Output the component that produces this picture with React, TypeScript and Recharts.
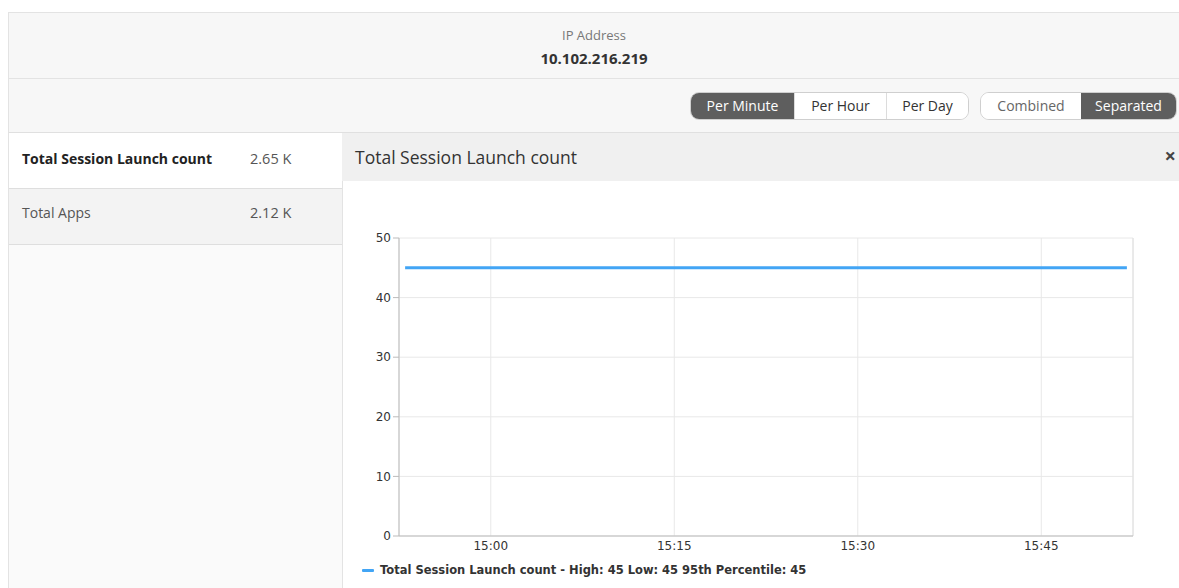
import React from 'react';
import { LineChart, Line, XAxis, YAxis, CartesianGrid, Legend, ReferenceLine } from 'recharts';

const timeLabels = [
  '14:53', '14:54', '14:55', '14:56', '14:57', '14:58', '14:59', '15:00', '15:01', '15:02',
  '15:03', '15:04', '15:05', '15:06', '15:07', '15:08', '15:09', '15:10', '15:11', '15:12',
  '15:13', '15:14', '15:15', '15:16', '15:17', '15:18', '15:19', '15:20', '15:21', '15:22',
  '15:23', '15:24', '15:25', '15:26', '15:27', '15:28', '15:29', '15:30', '15:31', '15:32',
  '15:33', '15:34', '15:35', '15:36', '15:37', '15:38', '15:39', '15:40', '15:41', '15:42',
  '15:43', '15:44', '15:45', '15:46', '15:47', '15:48', '15:49', '15:50', '15:51', '15:52',
];
const sessionLaunchCounts = [
  45, 45, 45, 45, 45, 45, 45, 45, 45, 45,
  45, 45, 45, 45, 45, 45, 45, 45, 45, 45,
  45, 45, 45, 45, 45, 45, 45, 45, 45, 45,
  45, 45, 45, 45, 45, 45, 45, 45, 45, 45,
  45, 45, 45, 45, 45, 45, 45, 45, 45, 45,
  45, 45, 45, 45, 45, 45, 45, 45, 45, 45,
];
const xTickLabels = ['15:00', '15:15', '15:30', '15:45'];
const xDomainLabels = ['14:52:30', '15:52:30'];
const yTicks = [0, 10, 20, 30, 40, 50];
const seriesName = 'Total Session Launch count';
const legendText = 'Total Session Launch count - High: 45 Low: 45 95th Percentile: 45';
const summaryRows = [
  { label: 'Total Session Launch count', value: '2.65 K' },
  { label: 'Total Apps', value: '2.12 K' },
];
const granularity = ['Per Minute', 'Per Hour', 'Per Day'];
const modes = ['Combined', 'Separated'];

const toMinutes = (s: string) => {
  const [h, m, sec] = s.split(':').map(Number);
  return h * 60 + m + (sec || 0) / 60;
};

const data = timeLabels.map((t, i) => ({ t: toMinutes(t), value: sessionLaunchCounts[i] }));
const xTicks = xTickLabels.map(toMinutes);
const xDomain = xDomainLabels.map(toMinutes);
const fmtTime = (v: number) => {
  const h = Math.floor(v / 60);
  const m = Math.round(v - h * 60);
  return `${h}:${m < 10 ? '0' + m : m}`;
};

const UI = '"Open Sans", "Noto Sans", sans-serif';
const CHART_FONT = '"DejaVu Sans", sans-serif';
const BLUE = '#42a5f5';

const segBase: React.CSSProperties = {
  height: 26,
  lineHeight: '26px',
  fontSize: 14,
  textAlign: 'center',
  boxSizing: 'border-box',
};

const LegendContent = () => (
  <div style={{ display: 'flex', alignItems: 'center', height: 20, paddingLeft: 20, fontFamily: CHART_FONT }}>
    <span style={{ display: 'inline-block', width: 12, height: 3, background: BLUE, borderRadius: 1, marginRight: 6 }} />
    <span style={{ fontSize: 11.5, fontWeight: 'bold', color: '#333' }}>{legendText}</span>
  </div>
);

export default function App() {
  return (
    <div style={{ position: 'relative', width: 1179, height: 588, overflow: 'hidden', background: '#fff' }}>
      <style>{'body{margin:0 !important;}'}</style>
      <div style={{ position: 'absolute', left: 8, top: 8, width: 1171, height: 580, overflow: 'hidden', fontFamily: UI, background: '#fff' }}>
        {/* header */}
        <div style={{ position: 'absolute', left: 0, top: 4, width: 1171, height: 67, background: '#f7f7f7', borderTop: '1px solid #e3e3e3', borderLeft: '1px solid #e3e3e3', borderBottom: '1px solid #e3e3e3', boxSizing: 'border-box', textAlign: 'center' }}>
          <div style={{ position: 'absolute', top: 13, width: '100%', fontSize: 13, color: '#777' }}>IP Address</div>
          <div style={{ position: 'absolute', top: 35, width: '100%', fontSize: 15, fontWeight: 'bold', color: '#333' }}>10.102.216.219</div>
        </div>
        {/* toolbar */}
        <div style={{ position: 'absolute', left: 0, top: 71, width: 1171, height: 54, background: '#f7f7f7', borderLeft: '1px solid #e3e3e3', borderBottom: '1px solid #e0e0e0', boxSizing: 'border-box' }}>
          <div style={{ position: 'absolute', left: 681, top: 13, display: 'flex', border: '1px solid #cfcfcf', borderRadius: 9, overflow: 'hidden', background: '#fff', height: 28, boxSizing: 'border-box' }}>
            {granularity.map((g, i) => (
              <div key={g} style={{ ...segBase, width: [103, 92, 82][i], background: i === 0 ? '#5e5e5e' : '#fff', color: i === 0 ? '#fff' : '#333', borderLeft: i > 0 ? '1px solid #dcdcdc' : 'none' }}>{g}</div>
            ))}
          </div>
          <div style={{ position: 'absolute', left: 971, top: 13, display: 'flex', border: '1px solid #cfcfcf', borderRadius: 9, overflow: 'hidden', background: '#fff', height: 28, boxSizing: 'border-box' }}>
            {modes.map((g, i) => (
              <div key={g} style={{ ...segBase, width: [100, 95][i], background: i === 1 ? '#5e5e5e' : '#fff', color: i === 1 ? '#fff' : '#666' }}>{g}</div>
            ))}
          </div>
        </div>
        {/* left summary panel */}
        <div style={{ position: 'absolute', left: 0, top: 125, width: 335, height: 455, background: '#fafafa', borderLeft: '1px solid #e3e3e3', borderRight: '1px solid #e3e3e3', boxSizing: 'border-box' }}>
          {summaryRows.map((r, i) => (
            <div key={r.label} style={{ position: 'relative', height: 56, background: i === 0 ? '#fff' : '#f3f3f3', borderBottom: '1px solid #dedede', boxSizing: 'border-box' }}>
              <div style={{ position: 'absolute', left: 13, top: i === 0 ? 16 : 14, fontSize: 14, fontWeight: i === 0 ? 'bold' : 'normal', color: i === 0 ? '#222' : '#555' }}>{r.label}</div>
              <div style={{ position: 'absolute', left: 241, top: i === 0 ? 16 : 14, fontSize: 14.5, color: '#555' }}>{r.value}</div>
            </div>
          ))}
        </div>
        {/* chart panel header */}
        <div style={{ position: 'absolute', left: 334, top: 125, width: 837, height: 48, background: '#f0f0f0' }}>
          <div style={{ position: 'absolute', left: 13, top: 12, fontSize: 17.5, color: '#333' }}>{seriesName}</div>
          <div style={{ position: 'absolute', right: 3, top: 9, fontSize: 20, color: '#444', fontWeight: 'bold' }}>×</div>
        </div>
        {/* chart */}
        <div style={{ position: 'absolute', left: 334, top: 173 }}>
          <LineChart width={837} height={407} data={data} margin={{ top: 57, right: 46, left: 0, bottom: 8 }}>
            <CartesianGrid stroke="#e8e8e8" />
            <XAxis
              dataKey="t"
              type="number"
              domain={xDomain}
              ticks={xTicks}
              tickFormatter={fmtTime}
              allowDataOverflow
              height={24}
              tickLine={false}
              tickSize={2}
              tickMargin={3}
              axisLine={{ stroke: '#bbb' }}
              tick={{ fill: '#333', fontSize: 12, fontFamily: CHART_FONT }}
            />
            <YAxis
              domain={[0, 50]}
              ticks={yTicks}
              width={57}
              axisLine={{ stroke: '#bbb' }}
              tickLine={{ stroke: '#bbb' }}
              tick={{ fill: '#333', fontSize: 12, fontFamily: CHART_FONT }}
            />
            <ReferenceLine x={xDomain[1]} stroke="#e0e0e0" />
            <Legend verticalAlign="bottom" align="left" height={20} content={LegendContent} />
            <Line type="linear" dataKey="value" name={seriesName} stroke={BLUE} strokeWidth={3} dot={false} isAnimationActive={false} />
          </LineChart>
        </div>
      </div>
    </div>
  );
}
